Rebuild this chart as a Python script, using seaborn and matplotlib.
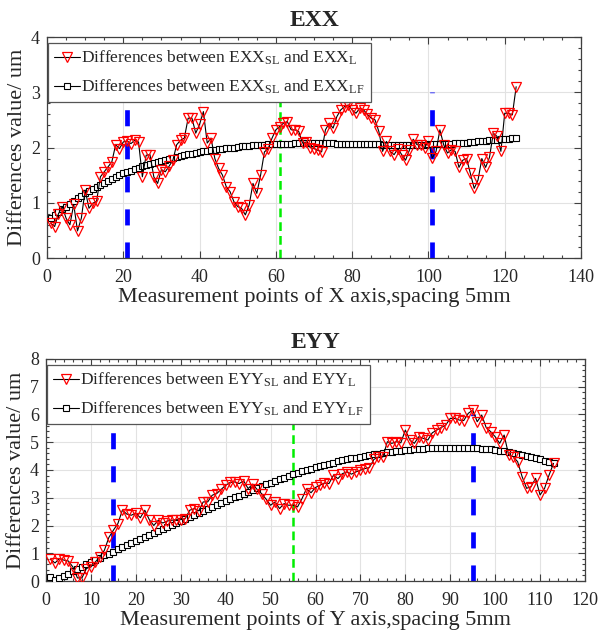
import numpy as np
import pandas as pd
import matplotlib
matplotlib.use("Agg")
import matplotlib.pyplot as plt
from matplotlib.ticker import MultipleLocator
import seaborn as sns

# ---------------- data ----------------
exx_l = [0.63, 0.57, 0.80, 0.93, 0.72, 0.60, 0.97, 0.49, 0.72, 1.23,
         0.90, 0.99, 1.03, 1.47, 1.56, 1.65, 1.74, 2.05, 1.98, 2.10,
         2.12, 2.07, 2.13, 2.10, 1.47, 1.86, 1.87, 1.47, 1.35, 1.60,
         1.56, 1.66, 1.77, 2.05, 2.13, 2.17, 2.53, 2.53, 2.26, 2.42,
         2.65, 2.08, 2.17, 1.80, 1.62, 1.50, 1.29, 1.20, 1.02, 0.93,
         0.90, 0.78, 0.96, 1.35, 1.17, 1.50, 1.92, 1.98, 2.17, 2.32,
         2.38, 2.44, 2.47, 2.32, 2.32, 2.29, 2.08, 2.10, 2.00, 1.98,
         1.95, 1.92, 2.32, 2.44, 2.35, 2.56, 2.68, 2.74, 2.77, 2.68,
         2.62, 2.71, 2.68, 2.60, 2.53, 2.50, 2.29, 1.93, 2.11, 1.93,
         1.87, 1.98, 1.87, 1.77, 1.95, 2.15, 2.05, 2.05, 2.00, 2.11,
         1.81, 1.93, 2.32, 2.05, 1.90, 1.96, 1.93, 1.64, 1.77, 1.80,
         1.53, 1.26, 1.41, 1.80, 1.64, 1.82, 2.26, 2.20, 1.93, 2.62,
         2.62, 2.59, 3.10]
exx_lf = [0.72, 0.78, 0.83, 0.88, 0.93, 0.98, 1.03, 1.08, 1.12, 1.17,
          1.21, 1.25, 1.29, 1.33, 1.36, 1.40, 1.43, 1.47, 1.50, 1.53,
          1.56, 1.58, 1.61, 1.63, 1.66, 1.68, 1.70, 1.72, 1.74, 1.76,
          1.78, 1.80, 1.81, 1.83, 1.85, 1.86, 1.88, 1.89, 1.90, 1.92,
          1.93, 1.94, 1.95, 1.96, 1.97, 1.98, 1.99, 2.00, 2.00, 2.01,
          2.02, 2.03, 2.03, 2.04, 2.04, 2.05, 2.05, 2.06, 2.06, 2.06,
          2.07, 2.07, 2.07, 2.07, 2.08, 2.08, 2.08, 2.08, 2.08, 2.08,
          2.08, 2.08, 2.08, 2.08, 2.08, 2.07, 2.07, 2.07, 2.07, 2.07,
          2.07, 2.06, 2.06, 2.06, 2.06, 2.06, 2.06, 2.05, 2.05, 2.05,
          2.05, 2.05, 2.05, 2.05, 2.05, 2.05, 2.05, 2.05, 2.05, 2.06,
          2.06, 2.06, 2.06, 2.07, 2.07, 2.07, 2.08, 2.08, 2.09, 2.09,
          2.10, 2.10, 2.11, 2.11, 2.12, 2.13, 2.13, 2.14, 2.15, 2.15,
          2.16, 2.17, 2.18]
x_exx = list(range(1, len(exx_l) + 1))

eyy_l = [0.78, 0.65, 0.81, 0.75, 0.72, 0.50, 0.11, 0.11, 0.45, 0.51,
         0.69, 0.87, 1.11, 1.57, 1.83, 2.07, 2.55, 2.41, 2.37, 2.45,
         2.28, 2.55, 2.21, 2.00, 2.19, 2.09, 2.16, 2.19, 2.21, 2.21,
         2.25, 2.55, 2.61, 2.53, 2.85, 2.85, 3.09, 3.15, 3.30, 3.45,
         3.55, 3.57, 3.51, 3.61, 3.33, 3.49, 3.30, 3.15, 2.95, 2.73,
         2.85, 2.61, 2.79, 2.73, 2.73, 2.67, 2.97, 3.33, 3.18, 3.37,
         3.45, 3.53, 3.51, 3.81, 3.69, 3.87, 3.93, 3.85, 3.93, 3.99,
         4.05, 4.09, 4.38, 4.47, 4.47, 5.02, 4.96, 5.02, 4.98, 5.44,
         5.08, 4.96, 5.20, 5.14, 5.08, 5.34, 5.44, 5.53, 5.62, 5.86,
         5.86, 5.80, 5.78, 6.04, 6.16, 5.74, 5.98, 5.53, 5.38, 5.20,
         4.96, 5.26, 4.54, 4.48, 4.30, 3.76, 3.34, 3.40, 3.70, 3.10,
         3.34, 3.82, 4.24]
eyy_lf = [0.13, 0.05, 0.10, 0.18, 0.27, 0.35, 0.44, 0.52, 0.60, 0.68,
          0.76, 0.84, 0.92, 0.99, 1.06, 1.14, 1.21, 1.29, 1.37, 1.45,
          1.52, 1.59, 1.67, 1.74, 1.81, 1.89, 1.96, 2.03, 2.10, 2.17,
          2.24, 2.31, 2.39, 2.46, 2.53, 2.59, 2.66, 2.73, 2.80, 2.87,
          2.94, 3.01, 3.08, 3.15, 3.22, 3.28, 3.35, 3.41, 3.48, 3.54,
          3.60, 3.66, 3.72, 3.78, 3.84, 3.89, 3.95, 4.00, 4.05, 4.10,
          4.15, 4.19, 4.23, 4.27, 4.31, 4.35, 4.38, 4.42, 4.45, 4.48,
          4.51, 4.54, 4.56, 4.59, 4.61, 4.64, 4.66, 4.68, 4.70, 4.72,
          4.73, 4.75, 4.76, 4.77, 4.78, 4.79, 4.80, 4.80, 4.81, 4.81,
          4.81, 4.81, 4.80, 4.80, 4.79, 4.78, 4.77, 4.75, 4.74, 4.72,
          4.70, 4.67, 4.64, 4.61, 4.58, 4.54, 4.50, 4.46, 4.42, 4.38,
          4.34, 4.29, 4.25]
x_eyy = list(range(1, len(eyy_l) + 1))

exx_vlines_blue = [21, 101]
exx_vline_green = [61]
eyy_vlines_blue = [15, 95]
eyy_vline_green = [55]

# ---------------- style ----------------
sns.set_theme(style="white")
plt.rcParams["font.family"] = ["Liberation Serif", "DejaVu Serif"]
plt.rcParams["mathtext.fontset"] = "custom"
plt.rcParams["mathtext.rm"] = "Liberation Serif"
plt.rcParams["mathtext.it"] = "Liberation Serif:italic"
plt.rcParams["mathtext.bf"] = "Liberation Serif:bold"

fig = plt.figure(figsize=(6.01, 6.35), dpi=100)
ax1 = fig.add_axes([47 / 601, 1 - 258 / 635, 534 / 601, 221 / 635])
ax2 = fig.add_axes([46 / 601, 1 - 581 / 635, 539 / 601, 222 / 635])

spine_col = "#404040"


def panel(ax, x, yl, ylf, name, blue, green, vtop, xmax, xmajor, xminor, ymax, xlabel):
    for xv in blue:
        ax.plot([xv, xv], [0, vtop], color="#0000ff", lw=3.4,
                dashes=(3.4, 3.6), zorder=2, dash_capstyle="butt")
    for xv in green:
        ax.plot([xv, xv], [0, vtop], color="#00ee00", lw=1.8,
                dashes=(3.5, 2.0), zorder=2, dash_capstyle="butt")
    df1 = pd.DataFrame({"x": x, "y": yl})
    df2 = pd.DataFrame({"x": x, "y": ylf})
    sns.lineplot(data=df1, x="x", y="y", ax=ax, color="black", lw=0.8,
                 marker="v", markersize=6.5, markerfacecolor="none",
                 markeredgecolor="red", markeredgewidth=0.9, zorder=4,
                 label=rf"Differences between {name}$_{{\mathrm{{SL}}}}$ and {name}$_{{\mathrm{{L}}}}$")
    sns.lineplot(data=df2, x="x", y="y", ax=ax, color="black", lw=0.8,
                 marker="s", markersize=4, markerfacecolor="white",
                 markeredgecolor="black", markeredgewidth=0.8, zorder=3,
                 label=rf"Differences between {name}$_{{\mathrm{{SL}}}}$ and {name}$_{{\mathrm{{LF}}}}$")
    ax.set_xlim(0, xmax)
    ax.set_ylim(0, ymax)
    ax.xaxis.set_major_locator(MultipleLocator(xmajor))
    ax.xaxis.set_minor_locator(MultipleLocator(xminor))
    ax.yaxis.set_major_locator(MultipleLocator(1))
    ax.yaxis.set_minor_locator(MultipleLocator(0.2))
    ax.grid(True, which="major", color="#e2e2e2", lw=0.8)
    ax.set_axisbelow(True)
    ax.tick_params(which="both", direction="in", top=True, right=True,
                   bottom=True, left=True, colors=spine_col, labelcolor="#262626",
                   labelsize=13)
    ax.tick_params(axis="x", which="both", pad=8)
    ax.tick_params(axis="y", which="both", pad=5)
    ax.tick_params(which="major", length=5, width=0.8)
    ax.tick_params(which="minor", length=2.5, width=0.8)
    for s in ax.spines.values():
        s.set_color(spine_col)
        s.set_linewidth(0.9)
    ax.set_xlabel(xlabel, fontsize=16, color="#262626", labelpad=1)
    ax.set_ylabel("Differences value/ um", fontsize=16, color="#262626", labelpad=3)
    ax.set_title(name, fontsize=17, fontweight="bold", pad=8)
    leg = ax.legend(loc="upper left", bbox_to_anchor=(0.002, 0.973),
                    fontsize=12.5, frameon=True, fancybox=False,
                    edgecolor="#555555", framealpha=1, handlelength=1.5,
                    handletextpad=0.05, borderpad=0.35, labelspacing=0.6,
                    borderaxespad=0.0)
    leg.get_frame().set_linewidth(0.9)
    leg.set_zorder(5)


panel(ax1, x_exx, exx_l, exx_lf, "EXX", exx_vlines_blue, exx_vline_green, 3,
      140, 20, 5, 4, "Measurement points of X axis,spacing 5mm")
panel(ax2, x_eyy, eyy_l, eyy_lf, "EYY", eyy_vlines_blue, eyy_vline_green, 6,
      120, 10, 2, 8, "Measurement points of Y axis,spacing 5mm")

fig.savefig("out.png", dpi=100)
